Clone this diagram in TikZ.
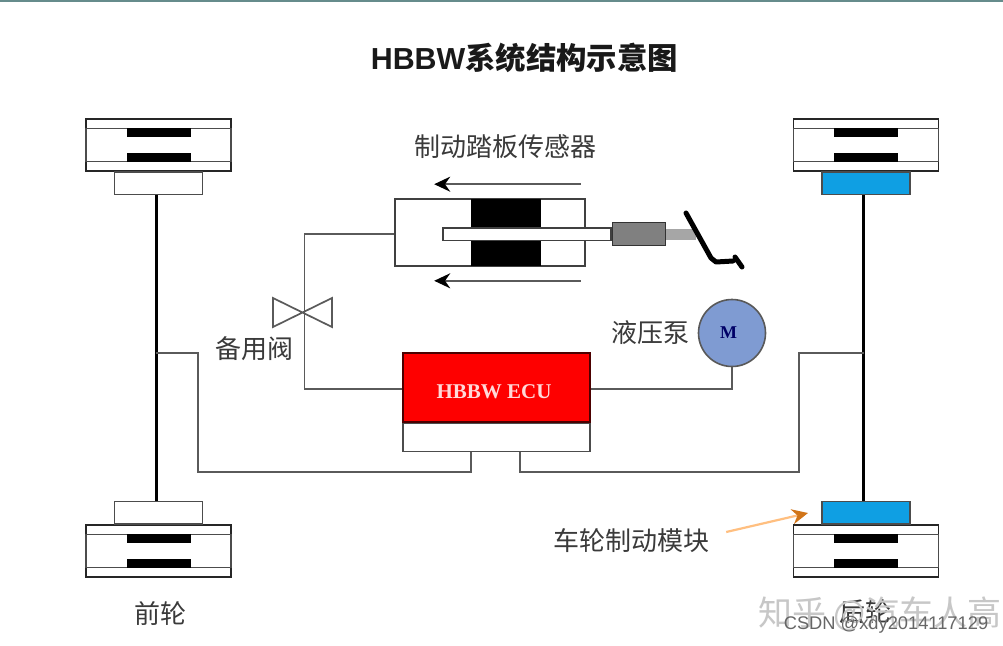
\documentclass[tikz,border=0pt]{standalone}
\usepackage{fontspec}
\setmainfont{Liberation Sans}
\newfontfamily\cjk{Noto Sans CJK SC}
\newfontfamily\ecufont{Liberation Serif}
\usetikzlibrary{arrows.meta,positioning,calc}
\definecolor{pipe_gray}{HTML}{5A5A5A}
\definecolor{brake_blue}{HTML}{0F9FE3}
\definecolor{ecu_red}{HTML}{FE0000}
\definecolor{motor_blue}{HTML}{7F9BD2}
\definecolor{label_gray}{HTML}{3A3A3A}
\tikzset{caliper/.style={rectangle, draw=black!85, line width=1.6pt, fill=white, minimum width=145pt, minimum height=52pt, inner sep=0pt}}
\tikzset{liner/.style={rectangle, draw=black!70, line width=1.8pt, minimum width=145pt, minimum height=33pt, inner sep=0pt}}
\tikzset{padbar/.style={rectangle, fill=black, minimum width=64pt, minimum height=9.5pt, inner sep=0pt}}
\tikzset{module/.style={rectangle, draw=black!70, line width=1.6pt, minimum width=88pt, minimum height=22.5pt, inner sep=0pt}}
\tikzset{shaft/.style={black, line width=3pt}}
\tikzset{pipe/.style={pipe_gray, line width=1.7pt}}
\tikzset{label/.style={text=label_gray, font=\cjk\fontsize{26}{26}\selectfont, inner sep=0pt}}
\tikzset{flow/.style={pipe_gray, line width=2pt, -{Stealth[length=16pt,width=15pt,color=black]}}}
\begin{document}
\begin{tikzpicture}[x=1pt, y=-1pt]
  \useasboundingbox (0,0) rectangle (1003,645);
  \fill[white] (0,0) rectangle (1003,645);
  \fill[black!50!teal!60!white] (0,0) rectangle (1003,1.5);

  \node[inner sep=0pt, text=black!90, font=\fontsize{30.4}{30.4}\selectfont\bfseries] (title) at (524.5,58) {HBBW{\cjk\bfseries 系统结构示意图}};

  % front wheels
  \node[caliper] (caliper-fl) at (158.5,145) {};
  \node[liner] (liner-fl) at (caliper-fl) {};
  \node[padbar, below=0pt of liner-fl.north] (pad-fl-1) {};
  \node[padbar, above=0pt of liner-fl.south] (pad-fl-2) {};
  \node[module, below=-0.7pt of caliper-fl] (module-fl) {};

  \node[caliper] (caliper-rl) at (158.5,551) {};
  \node[liner] (liner-rl) at (caliper-rl) {};
  \node[padbar, below=0pt of liner-rl.north] (pad-rl-1) {};
  \node[padbar, above=0pt of liner-rl.south] (pad-rl-2) {};
  \node[module, above=-0.7pt of caliper-rl] (module-rl) {};

  % rear wheels
  \node[caliper] (caliper-fr) at (866,145) {};
  \node[liner] (liner-fr) at (caliper-fr) {};
  \node[padbar, below=0pt of liner-fr.north] (pad-fr-1) {};
  \node[padbar, above=0pt of liner-fr.south] (pad-fr-2) {};
  \node[module, below=-0.7pt of caliper-fr, fill=brake_blue] (module-fr) {};

  \node[caliper] (caliper-rr) at (866,551) {};
  \node[liner] (liner-rr) at (caliper-rr) {};
  \node[padbar, below=0pt of liner-rr.north] (pad-rr-1) {};
  \node[padbar, above=0pt of liner-rr.south] (pad-rr-2) {};
  \node[module, above=-0.7pt of caliper-rr, fill=brake_blue] (module-rr) {};

  \draw[shaft] ([xshift=-2.5pt]module-fl.south) -- ([xshift=-2.5pt]module-rl.north);
  \draw[shaft] ([xshift=-2.5pt]module-fr.south) -- ([xshift=-2.5pt]module-rr.north);

  % master cylinder
  \node[rectangle, draw=black!75, line width=1.6pt, minimum width=190pt, minimum height=67pt, inner sep=0pt] (cylinder) at (490,232.5) {};
  \node[rectangle, fill=black, minimum width=70pt, minimum height=67pt, inner sep=0pt] (piston) at (506,232.5) {};
  \node[rectangle, draw=black!75, fill=white, line width=1.5pt, minimum width=168pt, minimum height=12.5pt, inner sep=0pt] (rod) at (527,234) {};
  \node[rectangle, draw=black!80, fill=black!50, line width=1.5pt, minimum width=53pt, minimum height=23pt, inner sep=0pt, right=0pt of rod] (sensor) {};
  \node[rectangle, fill=black!35, minimum width=30pt, minimum height=11pt, inner sep=0pt, right=0pt of sensor] (link) {};
  \draw[black, line width=5pt, line cap=round, line join=round] (686,213) -- (711,258) -- (716,262) -- (733,261) (735,257) -- (742,267);

  \node[label, above=40pt of piston.north, xshift=-1pt] (label-sensor) {制动踏板传感器};
  \coordinate[above=14pt of cylinder.north east, xshift=-5pt] (flow-1-start);
  \coordinate[above=14pt of cylinder.north west, xshift=40pt] (flow-1-end);
  \coordinate[below=14pt of cylinder.south east, xshift=-5pt] (flow-2-start);
  \coordinate[below=14pt of cylinder.south west, xshift=40pt] (flow-2-end);
  \draw[flow] (flow-1-start) -- (flow-1-end);
  \draw[flow] (flow-2-start) -- (flow-2-end);

  % ECU and pump
  \node[rectangle, draw=black!70!red, fill=ecu_red, line width=1.6pt, minimum width=187pt, minimum height=69pt, inner sep=0pt] (ecu) at (496.5,387.5) {};
  \node[inner sep=0pt, font=\ecufont\fontsize{21}{21}\selectfont\bfseries, text=white!85!red] (ecu-label) at (494,392) {HBBW ECU};
  \node[rectangle, draw=black!70, line width=1.6pt, minimum width=187pt, minimum height=28pt, inner sep=0pt, below=0pt of ecu] (ecu-base) {};
  \node[circle, draw=black!65, fill=motor_blue, line width=1.6pt, minimum size=67pt, inner sep=0pt, font=\ecufont\fontsize{18}{18}\selectfont\bfseries, text=blue!40!black] (motor) at (732,333) {\hspace*{-7pt}M};
  \node[label, left=8pt of motor] (label-pump) {液压泵};

  % valve
  \coordinate (valve) at (304.5,313);
  \draw[pipe, line join=miter] (273,298) -- (332,327) -- (332,298) -- (273,327) -- cycle;
  \node[label, below=23pt of valve, xshift=-50pt] (label-valve) {备用阀};

  \draw[pipe] (cylinder.west |- rod) -| (valve) |- ([yshift=-1.5pt]ecu.west);
  \draw[pipe] ([yshift=-1.5pt]ecu.east) -| (motor);

  % ECU to wheels
  \coordinate[below=0pt of ecu-base.south, xshift=-25.5pt] (port-l);
  \coordinate[below=0pt of ecu-base.south, xshift=23.5pt] (port-r);
  \coordinate (tap-l) at (156,353);
  \coordinate (tap-r) at (864,353);
  \draw[pipe] (port-l) |- (198,472) |- (tap-l);
  \draw[pipe] (port-r) |- (799,472) |- (tap-r);

  \node[label] (label-module) at (631,541) {车轮制动模块};
  \node[label] (label-front) at (160,614) {前轮};
  \node[label] (label-rear) at (865,612) {后轮};
  \coordinate (tip-module) at (808,513);
  \draw[draw=orange!50!white, line width=2.2pt, -{Stealth[length=16pt,width=15pt,color=orange!80!black!90]}] ([xshift=17pt,yshift=9pt]label-module.east) -- (tip-module);

  % watermark
  \node[text=black!22, font=\cjk\fontsize{34}{34}\selectfont, inner sep=0pt] (mark-zhihu) at (880,614) {知乎 @汽车人高};
  \node[text=black!60, font=\fontsize{18.3}{18.3}\selectfont, inner sep=0pt] (mark-csdn) at (886,625) {CSDN @xdy2014117129};
\end{tikzpicture}
\end{document}
